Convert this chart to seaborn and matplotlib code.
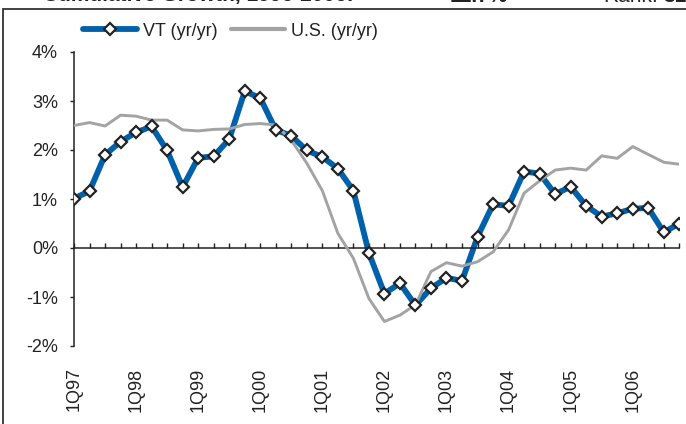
import matplotlib
matplotlib.use('Agg')
import matplotlib.pyplot as plt
from matplotlib.lines import Line2D
from matplotlib.patches import Rectangle
import seaborn as sns
import pandas as pd

# quarterly yr/yr employment growth, 1Q97 - 4Q06
quarters = [f'{q}Q{y:02d}' for y in list(range(97, 100)) + list(range(0, 7)) for q in range(1, 5)]
vt = [1.01, 1.16, 1.90, 2.17, 2.36, 2.48, 1.99, 1.24, 1.84, 1.87,
      2.22, 3.20, 3.06, 2.41, 2.29, 1.99, 1.86, 1.62, 1.17, -0.10,
      -0.93, -0.72, -1.17, -0.82, -0.61, -0.67, 0.23, 0.89, 0.86, 1.56,
      1.52, 1.10, 1.25, 0.86, 0.64, 0.71, 0.80, 0.82, 0.32, 0.50]
us = [2.50, 2.56, 2.49, 2.71, 2.69, 2.61, 2.61, 2.41, 2.39, 2.42,
      2.43, 2.52, 2.54, 2.51, 2.20, 1.73, 1.17, 0.30, -0.21, -1.03,
      -1.50, -1.37, -1.16, -0.48, -0.30, -0.37, -0.28, -0.08, 0.37, 1.12,
      1.37, 1.59, 1.63, 1.59, 1.88, 1.83, 2.07, 1.91, 1.75, 1.71]
yticks = [-2, -1, 0, 1, 2, 3, 4]

df = pd.DataFrame({'t': range(len(quarters)), 'VT': vt, 'US': us})

sns.set_theme(style='white')
plt.rcParams['font.family'] = ['Liberation Sans', 'DejaVu Sans']

blue = '#0061ab'
grey = '#a3a3a3'
ink = '#222222'

fig = plt.figure(figsize=(6.86, 4.24), dpi=100)
ax = fig.add_axes([74/686, 1 - 346/424, (679.3 - 74)/686, 294/424])

sns.lineplot(data=df, x='t', y='VT', ax=ax, color=blue, linewidth=4.2, zorder=2)
sns.lineplot(data=df, x='t', y='US', ax=ax, color=grey, linewidth=2.1, zorder=3)
ax.plot(df['t'], df['VT'], linestyle='none', marker='D', markersize=6.2,
        markerfacecolor='white', markeredgecolor=ink, markeredgewidth=1.6, zorder=4)

ax.set_xlim(0, len(quarters) - 1)
ax.set_ylim(-2, 4)
ax.set_xlabel('')
ax.set_ylabel('')

ax.set_yticks(yticks)
ax.set_yticklabels([f'{v}%' for v in yticks])
ax.set_xticks(range(len(quarters)))
ax.set_xticklabels([q if q.startswith('1Q') else '' for q in quarters])

for s in ['top', 'right']:
    ax.spines[s].set_visible(False)
ax.spines['bottom'].set_position(('data', 0))
for s in ['left', 'bottom']:
    ax.spines[s].set_color(ink)
    ax.spines[s].set_linewidth(1.1)

ax.tick_params(axis='y', direction='out', length=3, width=1, color=ink,
               labelsize=13, labelcolor=ink, pad=8.5, left=True)
ax.tick_params(axis='x', direction='in', length=3.8, width=1, color=ink,
               labelsize=13, labelcolor=ink, pad=86, bottom=True, labelrotation=90)

handles = [Line2D([], [], color=blue, linewidth=4.2, marker='D', markersize=6.2,
                  markerfacecolor='white', markeredgecolor=ink, markeredgewidth=1.6),
           Line2D([], [], color=grey, linewidth=3)]
fig.legend(handles, ['VT (yr/yr)', 'U.S. (yr/yr)'], loc='center left',
           bbox_to_anchor=(83/686, 1 - 31/424), ncol=2, frameon=False,
           fontsize=13, handlelength=3, handletextpad=0.35, columnspacing=0.7,
           borderaxespad=0, borderpad=0, labelcolor=ink)

# outer frame and the clipped headline above it
fig.patches.append(Rectangle((3.5/686, -0.2), 1.0, 1.2 - 8.5/424,
                             transform=fig.transFigure, fill=False,
                             edgecolor='#333333', linewidth=1.3))
top = 1 - 1.5/424
fig.text(43/686, top, 'Cumulative Growth, 1996-2006:', fontsize=15,
         fontweight='bold', color=ink, va='baseline')
fig.text(450/686, top, '11.7%', fontsize=15, fontweight='bold', color=ink, va='baseline')
fig.text(603/686, top, 'Rank:', fontsize=15, color=ink, va='baseline')
fig.text(663/686, top, '31st', fontsize=15, fontweight='bold', color=ink, va='baseline')

fig.savefig('out.png', dpi=100)
